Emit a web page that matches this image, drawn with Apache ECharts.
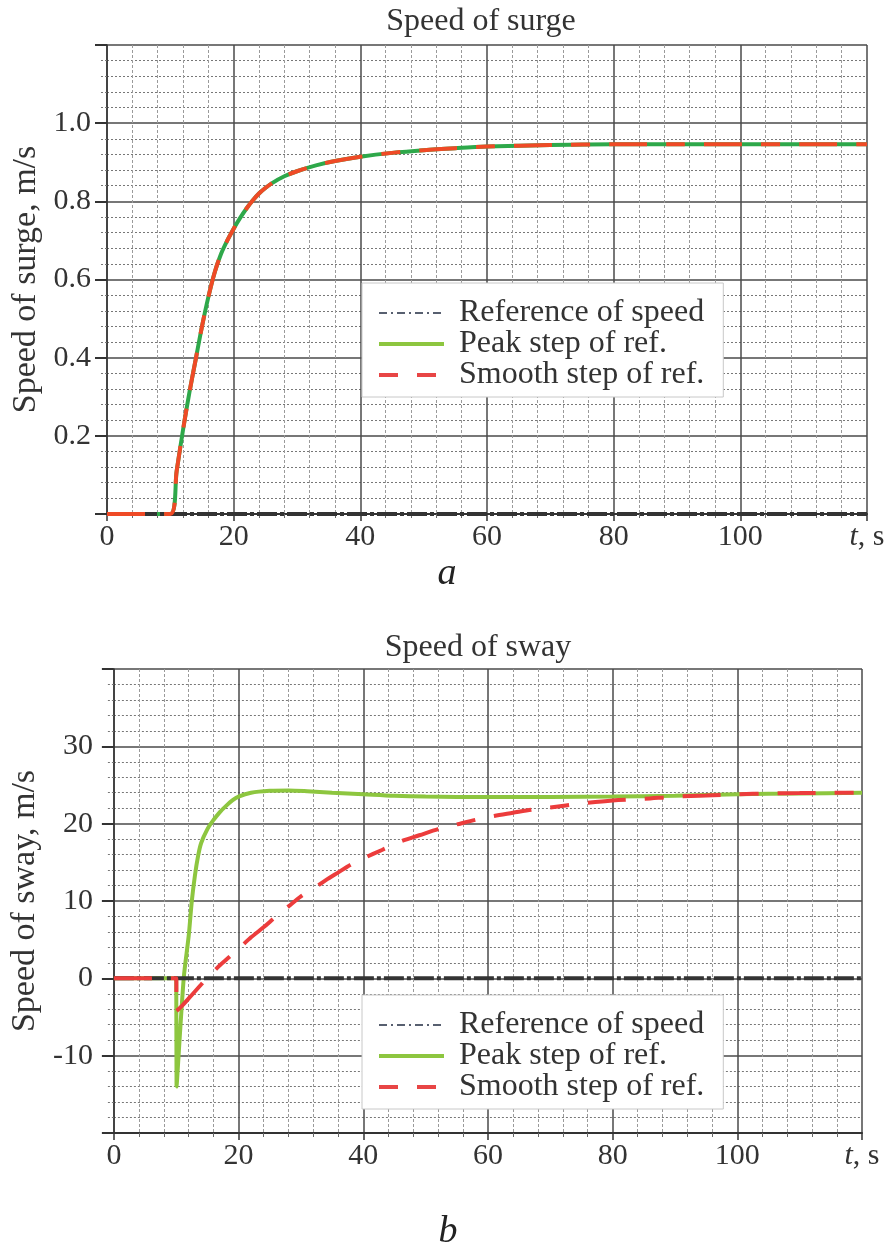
<!DOCTYPE html>
<html>
<head>
<meta charset="utf-8">
<script src="https://cdn.jsdelivr.net/npm/echarts@6/dist/echarts.min.js"></script>
<style>
html,body{margin:0;padding:0;background:#fff;}
#c{width:889px;height:1248px;}
</style>
</head>
<body>
<div id="c"></div>
<script>
// ---- data ----
const seriesNames = ['Reference of speed', 'Peak step of ref.', 'Smooth step of ref.'];
const xTicks = [0, 20, 40, 60, 80, 100, 120];

// (a) surge
const tRefA = [0, 120];
const refA = [0, 0];
const tSurge = [0, 10, 11, 12, 13, 14, 15, 16, 17, 18, 19, 20, 21, 22, 23, 24, 25, 26, 28, 30, 33, 36, 40, 45, 50, 55, 60, 70, 80, 90, 100, 110, 120];
const surgePeak = [0, 0, 0.11, 0.215, 0.31, 0.395, 0.48, 0.555, 0.618, 0.665, 0.70, 0.73, 0.757, 0.781, 0.802, 0.82, 0.834, 0.846, 0.864, 0.877, 0.892, 0.903, 0.914, 0.924, 0.931, 0.936, 0.94, 0.944, 0.946, 0.946, 0.946, 0.946, 0.946];
const surgeSmooth = [0, 0, 0.11, 0.215, 0.31, 0.395, 0.48, 0.555, 0.618, 0.665, 0.70, 0.73, 0.757, 0.781, 0.802, 0.82, 0.834, 0.846, 0.864, 0.877, 0.892, 0.903, 0.914, 0.924, 0.931, 0.936, 0.94, 0.944, 0.946, 0.946, 0.946, 0.946, 0.946];

// (b) sway
const tRefB = [0, 120];
const refB = [0, 0];
const tPeakB = [0, 10, 10.05, 11.2, 12, 12.5, 13, 13.5, 14, 15, 16, 17, 18, 19, 20, 22, 25, 28, 31, 35, 40, 45, 50, 60, 70, 80, 90, 100, 110, 120];
const swayPeak = [0, 0, -14, 0, 5.5, 10, 13.3, 15.8, 17.5, 19.3, 20.5, 21.5, 22.3, 23.0, 23.5, 24.0, 24.25, 24.3, 24.2, 24.0, 23.8, 23.6, 23.5, 23.45, 23.45, 23.5, 23.6, 23.8, 23.9, 24.0];
const tSmoothB = [0, 10, 10.05, 11, 12, 13, 14, 15, 16, 17, 18, 19, 20, 22, 24, 26, 28, 30, 32, 34, 36, 38, 40, 43, 46, 49, 52, 55, 58, 61, 64, 67, 70, 75, 80, 85, 90, 95, 100, 105, 110, 115, 120];
const swaySmooth = [0, 0, -4.2, -3.5, -2.6, -1.7, -0.8, 0.1, 0.9, 1.7, 2.4, 3.1, 3.8, 5.3, 6.6, 8.0, 9.3, 10.6, 11.6, 12.7, 13.7, 14.7, 15.5, 16.6, 17.7, 18.5, 19.3, 19.9, 20.5, 21.0, 21.4, 21.8, 22.1, 22.6, 23.0, 23.2, 23.5, 23.65, 23.8, 23.9, 23.95, 24.0, 24.0];

const pairs = (xs, ys) => xs.map((x, i) => [x, ys[i]]);

// ---- styles ----
const FONT = '"Liberation Serif", "DejaVu Serif", serif';
const TXT = '#333';

function xAxisCfg(gridIndex) {
  return {
    type: 'value', gridIndex, min: 0, max: 120, interval: 20,
    axisLine: {show: true, onZero: false, lineStyle: {color: '#333', width: 2}},
    axisTick: {show: true, length: 7, lineStyle: {color: '#333', width: 1.5}},
    minorTick: {show: true, splitNumber: 5, length: 4, lineStyle: {color: '#666'}},
    splitLine: {show: true, lineStyle: {color: '#4a4a4a', width: 1.5}},
    minorSplitLine: {show: true, lineStyle: {color: '#9a9a9a', width: 1, type: [3, 2]}},
    axisLabel: {
      margin: 8, fontSize: 30, fontFamily: FONT, color: TXT,
      formatter: v => (v === 120 ? '{i|t}, s' : String(v)),
      rich: {i: {fontStyle: 'italic', fontSize: 30, fontFamily: FONT, color: TXT}}
    }
  };
}
function yAxisCfg(gridIndex, min, max, interval, name, gap, margin, fmt) {
  return {
    type: 'value', gridIndex, min, max, interval,
    name, nameLocation: 'middle', nameGap: gap,
    nameTextStyle: {fontSize: 34, fontFamily: FONT, color: TXT},
    axisLine: {show: true, onZero: false, lineStyle: {color: '#333', width: 1.5}},
    axisTick: {show: true, length: 12, lineStyle: {color: '#333', width: 2}},
    minorTick: {show: true, splitNumber: 5, length: 7, lineStyle: {color: '#777', type: [2, 2]}},
    splitLine: {show: true, lineStyle: {color: '#4a4a4a', width: 1.5}},
    minorSplitLine: {show: true, lineStyle: {color: '#777', width: 1, type: [2, 2]}},
    axisLabel: {margin, fontSize: 30, fontFamily: FONT, color: TXT, formatter: fmt}
  };
}

const refStyle = {color: '#333', width: 4, type: [20, 3, 4, 3]};
const redDash = [38, 19, 19, 19];
const noSymbol = {opacity: 0};

function legendCfg(top) {
  return {
    orient: 'vertical', left: 362, top,
    padding: [14, 19, 6, 15],
    backgroundColor: '#fff', borderColor: '#c8c8c8', borderWidth: 1,
    itemWidth: 65, itemHeight: 14, itemGap: -1,
    selectedMode: false,
    textStyle: {fontSize: 32, fontFamily: FONT, color: TXT, padding: [0, 0, 0, 10]},
    data: [
      {name: seriesNames[0], itemStyle: noSymbol, lineStyle: {color: '#586070', width: 2, type: [8, 4, 2, 4]}},
      {name: seriesNames[1], itemStyle: noSymbol, lineStyle: {color: '#8dc63f', width: 4, type: 'solid'}},
      {name: seriesNames[2], itemStyle: noSymbol, lineStyle: {color: '#e84545', width: 4, type: [19, 19]}}
    ]
  };
}

const option = {
  animation: false,
  backgroundColor: '#fff',
  grid: [
    {left: 107, right: 22, top: 45, height: 469, containLabel: false},
    {left: 110, right: 27, top: 669, height: 464, containLabel: false}
  ],
  xAxis: [xAxisCfg(0), xAxisCfg(1)],
  yAxis: [
    yAxisCfg(0, 0, 1.2, 0.2, 'Speed of surge, m/s', 62, 16,
      v => (Math.abs(v) < 1e-9 || v > 1.1 ? '' : v.toFixed(1))),
    yAxisCfg(1, -20, 40, 10, 'Speed of sway, m/s', 63, 21,
      v => (v === -20 || v === 40 ? '' : String(v)))
  ],
  legend: [legendCfg(283), legendCfg(995)],
  graphic: [
    {type: 'text', x: 481, y: 22, style: {text: 'Speed of surge', font: '32px ' + FONT, fill: TXT, align: 'center', verticalAlign: 'middle', textAlign: 'center', textVerticalAlign: 'middle'}},
    {type: 'text', x: 478, y: 648, style: {text: 'Speed of sway', font: '32px ' + FONT, fill: TXT, align: 'center', verticalAlign: 'middle', textAlign: 'center', textVerticalAlign: 'middle'}},
    {type: 'text', x: 447, y: 574, style: {text: 'a', font: 'italic 38px ' + FONT, fill: '#222', align: 'center', verticalAlign: 'middle', textAlign: 'center', textVerticalAlign: 'middle'}},
    {type: 'text', x: 448, y: 1232, style: {text: 'b', font: 'italic 38px ' + FONT, fill: '#222', align: 'center', verticalAlign: 'middle', textAlign: 'center', textVerticalAlign: 'middle'}}
  ],
  series: [
    {name: seriesNames[1], type: 'line', xAxisIndex: 0, yAxisIndex: 0, symbol: 'none', smooth: 0.3, data: pairs(tSurge, surgePeak), lineStyle: {color: '#2ea84a', width: 4}, itemStyle: {color: '#8dc63f'}, z: 3},
    {name: seriesNames[0], type: 'line', xAxisIndex: 0, yAxisIndex: 0, symbol: 'none', data: pairs(tRefA, refA), lineStyle: refStyle, itemStyle: {color: '#586070'}, z: 4},
    {name: seriesNames[2], type: 'line', xAxisIndex: 0, yAxisIndex: 0, symbol: 'none', smooth: 0.3, data: pairs(tSurge, surgeSmooth), lineStyle: {color: '#ef4a26', width: 4, type: redDash}, itemStyle: {color: '#e84545'}, z: 5},

    {name: seriesNames[1], type: 'line', xAxisIndex: 1, yAxisIndex: 1, symbol: 'none', smooth: 0.3, data: pairs(tPeakB, swayPeak), lineStyle: {color: '#8dc63f', width: 4}, itemStyle: {color: '#8dc63f'}, z: 3},
    {name: seriesNames[0], type: 'line', xAxisIndex: 1, yAxisIndex: 1, symbol: 'none', data: pairs(tRefB, refB), lineStyle: refStyle, itemStyle: {color: '#586070'}, z: 4},
    {name: seriesNames[2], type: 'line', xAxisIndex: 1, yAxisIndex: 1, symbol: 'none', smooth: 0.3, data: pairs(tSmoothB, swaySmooth), lineStyle: {color: '#ec3c3c', width: 4, type: redDash}, itemStyle: {color: '#e84545'}, z: 5}
  ]
};

const chart = echarts.init(document.getElementById('c'), null, {renderer: 'canvas'});
chart.setOption(option);
</script>
</body>
</html>
